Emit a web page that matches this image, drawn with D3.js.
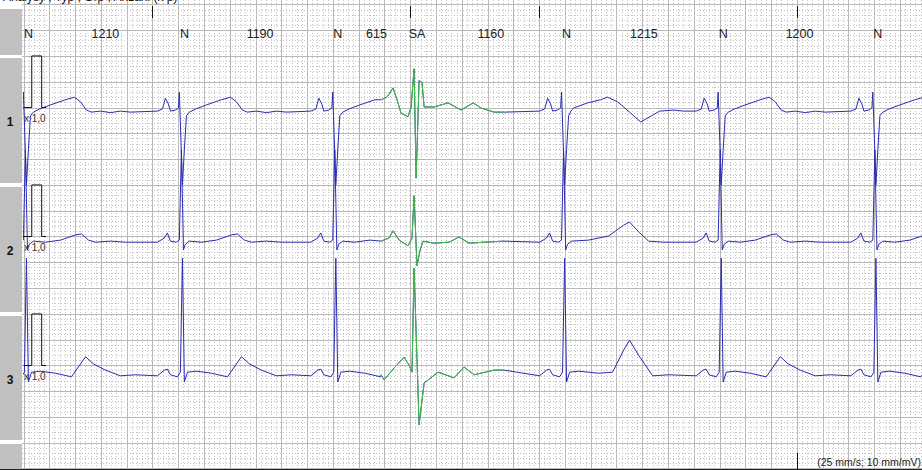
<!DOCTYPE html>
<html lang="en">
<head>
<meta charset="UTF-8" />
<title>ECG</title>
<script src="https://cdn.jsdelivr.net/npm/d3@7"></script>
<style>
  body { margin: 0; background: #fff; }
  svg { display: block; font-family: "Liberation Sans", Arial, sans-serif; }
  .minor { stroke: #c2c2c2; stroke-width: 1; stroke-dasharray: 1,2; }
  .major { stroke: #b8b8b8; stroke-width: 1; }
  .trace { fill: none; stroke: #2b2bb3; stroke-width: 1; }
  .ectopic { fill: none; stroke: #3fbf3f; stroke-width: 1; }
  .cal { fill: none; stroke: #111; stroke-width: 1; }
  .ann { font-size: 12.5px; fill: #222; text-anchor: middle; }
  .lead { font-size: 12px; font-weight: bold; fill: #111; text-anchor: middle; }
  .gain { font-size: 10px; fill: #333; }
</style>
</head>
<body>
<script>
// beat annotations
const beatLabels = ["N", "N", "N", "SA", "N", "N", "N"];
const beatForms = ["n", "n", "n", "sa", "post", "n", "n"];
const rrIntervals = [1210, 1190, 615, 1160, 1215, 1200]; // ms
const firstBeat = 15; // ms
const secondMarks = [1000, 3000, 4000, 6000];
const leadNames = ["1", "2", "3"];
const gainText = "x 1,0";
const speedText = "(25 mm/s; 10 mm/mV)";
const calPulse = [[0, 0], [64, 0], [64, 1], [141, 1], [141, 0], [175, 0]]; // ms, mV

// beat shapes per lead: [ms from R, mV]
const lead1Normal = [[-186,-0.07],[-147,-0.03],[-124,0.18],[-101,0.07],[-85,-0.07],[-47,-0.05],[-23,-0.01],[-16,0.30],[8,-1.50],[23,-0.82],[39,-0.16],[62,-0.09],[109,-0.03],[194,0.05],[310,0.15],[380,0.20],[427,0.11],[473,-0.05],[512,-0.09],[582,-0.07],[660,-0.10],[737,-0.07],[815,-0.09]];
const lead1Post = [[-186,-0.07],[-147,-0.03],[-124,0.18],[-101,0.07],[-85,-0.07],[-47,-0.05],[-23,-0.01],[-16,0.30],[8,-1.50],[23,-0.82],[39,-0.16],[62,-0.05],[78,-0.01],[186,0.09],[287,0.15],[341,0.20],[419,0.11],[512,-0.09],[598,-0.28],[683,-0.16],[745,-0.07],[854,-0.05],[931,-0.07]];
const lead1Ectopic = [[-256,0.15],[-210,0.20],[-163,0.38],[-132,0.15],[-101,-0.11],[-47,-0.18],[-23,0.01],[0,0.75],[16,-1.37],[39,0.53],[62,0.48],[78,0.01],[155,0.01],[264,0.09],[365,-0.05],[458,0.09],[520,-0.01],[621,-0.09],[698,-0.09]];

const lead2Normal = [[-186,-0.11],[-132,-0.03],[-109,0.07],[-85,-0.09],[-39,-0.11],[-16,-0.07],[0,1.68],[16,-0.26],[31,-0.15],[62,-0.09],[155,-0.11],[272,-0.07],[388,0.03],[435,0.05],[489,-0.07],[543,-0.11],[660,-0.09],[776,-0.11]];
const lead2Post = [[-186,-0.11],[-132,-0.03],[-109,0.07],[-85,-0.09],[-39,-0.11],[-16,-0.07],[0,1.68],[16,-0.26],[31,-0.15],[62,-0.09],[194,-0.07],[349,0.01],[466,0.22],[512,0.28],[582,0.09],[660,-0.09],[776,-0.11]];
const lead2Ectopic = [[-256,-0.09],[-194,-0.03],[-163,0.11],[-116,-0.07],[-47,-0.18],[-16,-0.03],[0,0.79],[23,-0.57],[47,-0.26],[70,-0.09],[155,-0.13],[272,-0.11],[349,-0.01],[427,-0.13],[543,-0.11],[698,-0.09]];

const lead3Normal = [[-186,-0.20],[-132,-0.09],[-109,-0.07],[-85,-0.18],[-31,-0.22],[-8,-0.13],[8,2.08],[23,-0.32],[47,-0.13],[116,-0.11],[233,-0.15],[357,-0.22],[466,0.17],[528,0.03],[621,-0.09],[737,-0.20],[854,-0.18]];
const lead3Post = [[-186,-0.20],[-132,-0.09],[-109,-0.07],[-85,-0.18],[-31,-0.22],[-8,-0.13],[8,2.08],[23,-0.32],[47,-0.13],[116,-0.11],[272,-0.15],[380,-0.13],[466,0.30],[512,0.49],[582,0.20],[691,-0.20],[815,-0.18]];
const lead3Ectopic = [[-256,-0.18],[-233,-0.28],[-155,-0.05],[-78,0.16],[-39,0.01],[-16,-0.13],[0,1.89],[39,-1.15],[78,-0.34],[186,-0.13],[310,-0.24],[388,-0.03],[466,-0.18],[621,-0.09],[698,-0.09]];

const leads = [
  { n: lead1Normal, post: lead1Post, sa: lead1Ectopic },
  { n: lead2Normal, post: lead2Post, sa: lead2Ectopic },
  { n: lead3Normal, post: lead3Post, sa: lead3Ectopic }
];

const width = 922, height = 470;
const left = 22;
const pxPerSec = 128.9;          // 25 mm/s
const pxPerMv = 51.56;           // 10 mm/mV
const gridTop = 4.4;
const baselines = [107.5, 236.5, 365.5];

const x = d3.scaleLinear().domain([0, 1000]).range([23.5, 23.5 + pxPerSec]);

const svg = d3.select("body").append("svg")
  .attr("width", width).attr("height", height);

svg.append("rect").attr("width", width).attr("height", height).attr("fill", "#fff");

svg.append("clipPath").attr("id", "plot")
  .append("rect").attr("x", left + 1).attr("y", 0).attr("width", width - left).attr("height", height);

// grid
const grid = svg.append("g");
const mm = pxPerMv / 10;
const tEnd = x.invert(width);
d3.range(0, tEnd, 40).forEach(function (t, i) {
  grid.append("line")
    .attr("class", i % 5 === 0 ? "major" : "minor")
    .attr("x1", Math.round(x(t)) + 0.5).attr("x2", Math.round(x(t)) + 0.5)
    .attr("y1", 0).attr("y2", height);
});
d3.range(0, 95).forEach(function (k) {
  const y = gridTop + k * mm;
  if (y > height) return;
  grid.append("line")
    .attr("class", k % 5 === 0 ? "major" : "minor")
    .attr("x1", left).attr("x2", width)
    .attr("y1", Math.round(y) + 0.5).attr("y2", Math.round(y) + 0.5);
});

// left label column
const blocks = [[9, 55], [58, 183], [187, 312], [316, 440], [444, 470]];
blocks.forEach(function (b) {
  svg.append("rect").attr("x", 0).attr("y", b[0]).attr("width", left)
    .attr("height", b[1] - b[0]).attr("fill", "#c0c0c0");
});

// partially visible header text
svg.append("text").attr("x", 3).attr("y", 1).attr("font-size", 12).attr("fill", "#111")
  .text("Analysy ;  Typ ;  Grp ;                                          Anzahl (x p)");

// beat times
const beatTimes = [firstBeat];
rrIntervals.forEach(function (rr) { beatTimes.push(beatTimes[beatTimes.length - 1] + rr); });

// second marks
secondMarks.forEach(function (t) {
  svg.append("line").attr("x1", Math.round(x(t)) + 0.5).attr("x2", Math.round(x(t)) + 0.5)
    .attr("y1", 6).attr("y2", 18).attr("stroke", "#111");
});
svg.append("line").attr("x1", Math.round(x(6000)) + 0.5).attr("x2", Math.round(x(6000)) + 0.5)
  .attr("y1", 453).attr("y2", 470).attr("stroke", "#111");

// annotations
beatTimes.forEach(function (t, i) {
  svg.append("text").attr("class", "ann").attr("x", x(t) + 3).attr("y", 38).text(beatLabels[i]);
});
rrIntervals.forEach(function (rr, i) {
  const mid = (beatTimes[i] + beatTimes[i + 1]) / 2;
  svg.append("text").attr("class", "ann").attr("x", x(mid) + 2).attr("y", 38).text(rr);
});

// traces
function buildLead(shapes) {
  const pts = [];
  beatTimes.forEach(function (t, i) {
    const tpl = shapes[beatForms[i]];
    const next = i + 1 < beatTimes.length
      ? beatTimes[i + 1] + shapes[beatForms[i + 1]][0][0] : Infinity;
    tpl.forEach(function (p) {
      if (t + p[0] < next) pts.push({ t: t + p[0], v: p[1], form: beatForms[i] });
    });
  });
  return pts;
}

const traces = svg.append("g").attr("clip-path", "url(#plot)");
leads.forEach(function (shapes, li) {
  const y = d3.scaleLinear().domain([0, 1]).range([baselines[li], baselines[li] - pxPerMv]);
  const line = d3.line().x(d => x(d.t)).y(d => y(d.v));
  const pts = buildLead(shapes);
  traces.append("path").attr("class", "trace").attr("d", line(pts));
  traces.append("path").attr("class", "ectopic").attr("d", line(pts.filter(d => d.form === "sa")));

  // calibration pulse
  const cal = d3.line().x(d => x(d[0])).y(d => y(d[1]));
  svg.append("path").attr("class", "cal").attr("d", cal(calPulse));

  svg.append("text").attr("class", "lead").attr("x", 10).attr("y", baselines[li] + 18).text(leadNames[li]);
  svg.append("text").attr("class", "gain").attr("x", 24).attr("y", baselines[li] + 14).text(gainText);
});

svg.append("text").attr("x", 921).attr("y", 466).attr("font-size", 10.5)
  .attr("text-anchor", "end").attr("fill", "#222").text(speedText);

svg.append("line").attr("x1", 0).attr("x2", width).attr("y1", 469.5).attr("y2", 469.5)
  .attr("stroke", "#222");
</script>
</body>
</html>
